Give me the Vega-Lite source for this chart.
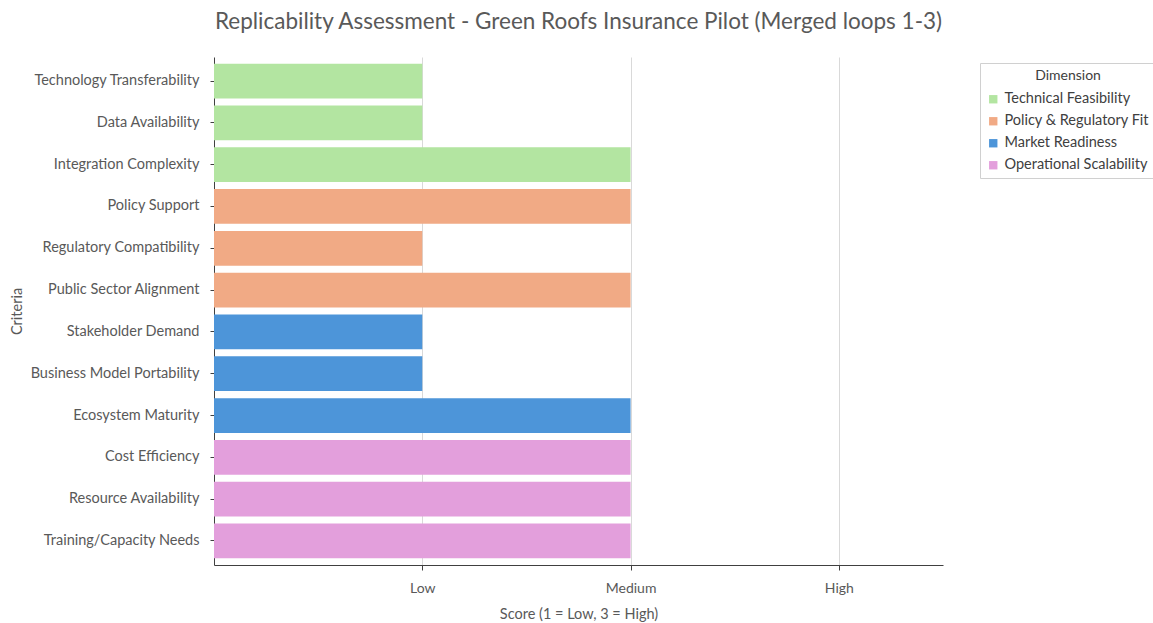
{
  "$schema": "https://vega.github.io/schema/vega-lite/v6.json",
  "autosize": {"type": "none"},
  "padding": {"left": 214, "top": 57, "right": 210, "bottom": 58},
  "width": 729,
  "height": 508,
  "background": "white",
  "config": {
    "font": "Lato",
    "view": {"stroke": null},
    "axis": {"labelColor": "#595959", "titleColor": "#595959", "labelFont": "Lato", "titleFont": "Lato"}
  },
  "title": {
    "text": "Replicability Assessment - Green Roofs Insurance Pilot (Merged loops 1-3)",
    "fontSize": 22.5,
    "fontWeight": "normal",
    "color": "#595959",
    "font": "Lato",
    "anchor": "middle",
    "offset": 24
  },
  "data": {
    "values": [
      {"criterion": "Technology Transferability", "score": 1, "dimension": "Technical Feasibility"},
      {"criterion": "Data Availability", "score": 1, "dimension": "Technical Feasibility"},
      {"criterion": "Integration Complexity", "score": 2, "dimension": "Technical Feasibility"},
      {"criterion": "Policy Support", "score": 2, "dimension": "Policy & Regulatory Fit"},
      {"criterion": "Regulatory Compatibility", "score": 1, "dimension": "Policy & Regulatory Fit"},
      {"criterion": "Public Sector Alignment", "score": 2, "dimension": "Policy & Regulatory Fit"},
      {"criterion": "Stakeholder Demand", "score": 1, "dimension": "Market Readiness"},
      {"criterion": "Business Model Portability", "score": 1, "dimension": "Market Readiness"},
      {"criterion": "Ecosystem Maturity", "score": 2, "dimension": "Market Readiness"},
      {"criterion": "Cost Efficiency", "score": 2, "dimension": "Operational Scalability"},
      {"criterion": "Resource Availability", "score": 2, "dimension": "Operational Scalability"},
      {"criterion": "Training/Capacity Needs", "score": 2, "dimension": "Operational Scalability"}
    ]
  },
  "mark": {"type": "bar"},
  "encoding": {
    "y": {
      "field": "criterion",
      "type": "nominal",
      "sort": null,
      "scale": {"paddingInner": 0.17, "paddingOuter": 0.16},
      "axis": {
        "title": "Criteria",
        "titleFontSize": 14.5,
        "titleFontWeight": "normal",
        "titleX": -197,
        "titleY": 254,
        "titleAngle": -90,
        "titleAlign": "center",
        "titleBaseline": "middle",
        "labelFontSize": 14.5,
        "labelPadding": 11,
        "tickSize": 4,
        "tickColor": "#404040",
        "domainColor": "#404040",
        "grid": false
      }
    },
    "x": {
      "field": "score",
      "type": "quantitative",
      "scale": {"domain": [0, 3.5], "nice": false},
      "axis": {
        "title": "Score (1 = Low, 3 = High)",
        "titleFontSize": 14.5,
        "titleFontWeight": "normal",
        "titlePadding": 12,
        "values": [1, 2, 3],
        "labelExpr": "datum.value == 1 ? 'Low' : datum.value == 2 ? 'Medium' : 'High'",
        "labelFontSize": 14,
        "labelPadding": 11,
        "tickSize": 5,
        "tickColor": "#404040",
        "domainColor": "#404040",
        "grid": true,
        "gridColor": "#d9d9d9"
      }
    },
    "color": {
      "field": "dimension",
      "type": "nominal",
      "scale": {
        "domain": ["Technical Feasibility", "Policy & Regulatory Fit", "Market Readiness", "Operational Scalability"],
        "range": ["#b3e5a1", "#f1aa85", "#4d95d9", "#e39fdc"]
      },
      "legend": {
        "title": "Dimension",
        "orient": "none",
        "legendX": 766,
        "legendY": 6,
        "titleFontSize": 14,
        "titleFontWeight": "normal",
        "titleColor": "#404040",
        "titleAnchor": "middle",
        "titlePadding": 9,
        "labelFontSize": 14.5,
        "labelColor": "#404040",
        "symbolType": "square",
        "symbolSize": 70,
        "symbolStrokeWidth": 0,
        "rowPadding": 7,
        "strokeColor": "#d0d0d0",
        "padding": 6,
        "labelLimit": 200
      }
    }
  }
}
